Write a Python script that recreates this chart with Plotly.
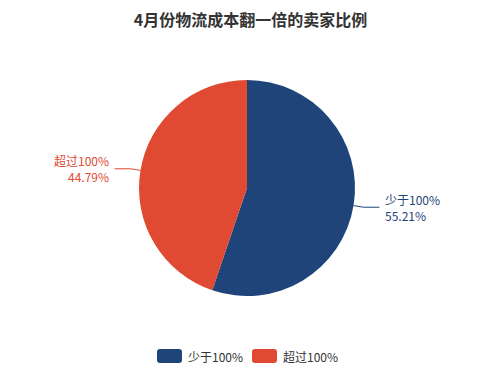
import math
import plotly.graph_objects as go

title = "4月份物流成本翻一倍的卖家比例"
labels = ["少于100%", "超过100%"]
values = [55.21, 44.79]
colors = ["#1e4479", "#e04a33"]

W, H = 501, 379
CX, CY, R = 247, 188, 108  # pie centre / radius in pixels
L1, L2 = 10, 16           # label line segment lengths

def px(x):
    return x / W

def py(y):
    return 1 - y / H

fig = go.Figure(go.Pie(
    labels=labels, values=values, sort=False, direction="clockwise", rotation=0,
    marker=dict(colors=colors, line=dict(color="white", width=0)),
    textinfo="none",
    domain=dict(x=[px(CX - R), px(CX + R)], y=[py(CY + R), py(CY - R)]),
    hoverinfo="label+percent",
    showlegend=False,
))

total = sum(values)
cum = 0
shapes = []
annotations = []
for lab, v, c in zip(labels, values, colors):
    mid = (cum + v / 2) / total * 2 * math.pi
    cum += v
    sx, sy = math.sin(mid), -math.cos(mid)
    x0, y0 = CX + R * sx, CY + R * sy
    x1, y1 = CX + (R + L1) * sx, CY + (R + L1) * sy
    side = 1 if sx >= 0 else -1
    x2 = x1 + side * L2
    shapes.append(dict(type="path", xref="paper", yref="paper",
                       path=f"M {px(x0)} {py(y0)} L {px(x1)} {py(y1)} L {px(x2)} {py(y1)}",
                       line=dict(color=c, width=1)))
    annotations.append(dict(xref="paper", yref="paper", x=px(x2 + side * 4), y=py(y1),
                            xanchor="left" if side > 0 else "right", yanchor="middle",
                            align="left" if side > 0 else "right",
                            text=f"{lab}<br>{v / total * 100:.2f}%", showarrow=False,
                            font=dict(size=12, color=c)))

# custom legend with rounded swatches
LX, LY, LW, LH, STEP = 157, 356, 25, 14, 95
for i, (lab, c) in enumerate(zip(labels, colors)):
    x0 = LX + i * STEP
    x1 = x0 + LW
    y0, y1 = LY - LH / 2, LY + LH / 2
    rr = 3
    path = (f"M {px(x0 + rr)} {py(y0)} L {px(x1 - rr)} {py(y0)} "
            f"Q {px(x1)} {py(y0)} {px(x1)} {py(y0 + rr)} L {px(x1)} {py(y1 - rr)} "
            f"Q {px(x1)} {py(y1)} {px(x1 - rr)} {py(y1)} L {px(x0 + rr)} {py(y1)} "
            f"Q {px(x0)} {py(y1)} {px(x0)} {py(y1 - rr)} L {px(x0)} {py(y0 + rr)} "
            f"Q {px(x0)} {py(y0)} {px(x0 + rr)} {py(y0)} Z")
    shapes.append(dict(type="path", xref="paper", yref="paper", path=path,
                       fillcolor=c, line=dict(width=0)))
    annotations.append(dict(xref="paper", yref="paper", x=px(x1 + 4), y=py(LY),
                            xanchor="left", yanchor="middle", text=lab, showarrow=False,
                            font=dict(size=12, color="#333")))

fig.update_layout(
    width=W, height=H,
    margin=dict(l=0, r=0, t=0, b=0),
    paper_bgcolor="white",
    font=dict(family="Noto Sans CJK SC, sans-serif", color="#333"),
    title=dict(text="<b>" + title + "</b>", x=0.5, xanchor="center", y=py(20), yanchor="middle",
               font=dict(size=16, color="#333")),
    shapes=shapes,
    annotations=annotations,
    showlegend=False,
)
fig.write_html("out.html", config={"displayModeBar": False},
               post_script="document.body.style.margin='0';")
